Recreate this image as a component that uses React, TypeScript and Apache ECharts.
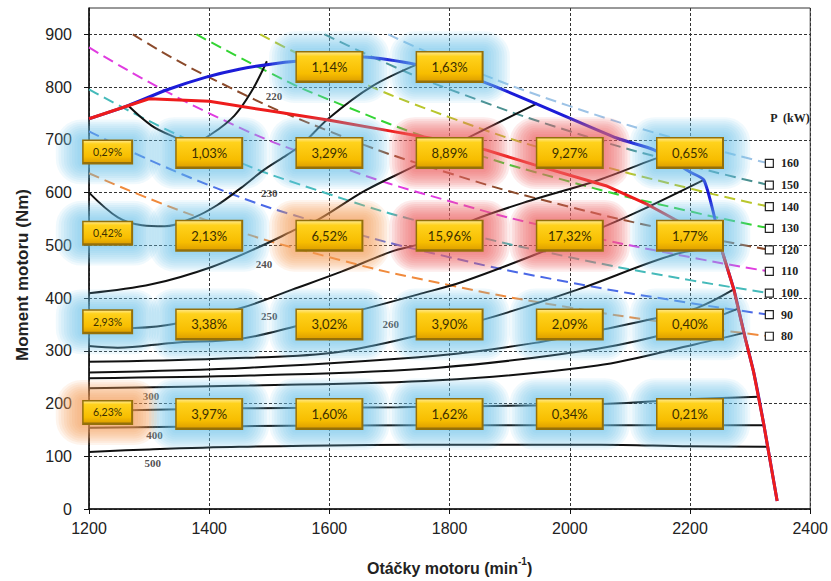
import React, { useEffect, useRef } from 'react';
import * as echarts from 'echarts';

// ---- constant power lines (P in kW) ----
const powerLevels = [160, 150, 140, 130, 120, 110, 100, 90, 80];
const powerColors = ['#9dc3e6', '#4a9090', '#b9c62c', '#33d433', '#8b4a2b', '#e03ce0', '#45baba', '#4a68e6', '#f08a3c'];
const p160 = [[1698, 900], [1800, 848.8], [2000, 763.9], [2200, 694.5], [2332, 655.2]];
const p150 = [[1592, 900], [1700, 842.6], [1800, 795.8], [2000, 716.2], [2200, 651.1], [2332, 614.2]];
const p140 = [[1485, 900], [1600, 835.5], [1800, 742.7], [2000, 668.4], [2200, 607.7], [2332, 573.3]];
const p130 = [[1379, 900], [1500, 827.6], [1600, 775.9], [1800, 689.7], [2000, 620.7], [2200, 564.3], [2332, 532.3]];
const p120 = [[1273, 900], [1400, 818.5], [1600, 716.2], [1800, 636.6], [2000, 572.9], [2200, 520.9], [2332, 491.4]];
const p110 = [[1200, 875.3], [1400, 750.3], [1600, 656.5], [1800, 583.6], [2000, 525.2], [2200, 477.5], [2332, 450.4]];
const p100 = [[1200, 795.8], [1400, 682.1], [1600, 596.8], [1800, 530.5], [2000, 477.5], [2200, 434.0], [2332, 409.5]];
const p90 = [[1200, 716.2], [1400, 613.9], [1600, 537.1], [1800, 477.5], [2000, 429.7], [2200, 390.6], [2332, 368.5]];
const p80 = [[1200, 636.6], [1400, 545.7], [1600, 477.5], [1800, 424.4], [2000, 382.0], [2200, 347.2], [2332, 327.6]];
const powerLines = [p160, p150, p140, p130, p120, p110, p100, p90, p80];

// ---- full-load torque curves ----
const blueCurve = [[1200, 740], [1265, 765], [1330, 795], [1395, 819], [1450, 834], [1505, 844], [1545, 849], [1657, 857], [1740, 844], [1856, 810], [2079, 703], [2140, 681], [2200, 639], [2223, 624], [2240, 557], [2253, 491], [2273, 416], [2291, 328], [2306, 259], [2323, 159], [2345, 15]];
const redCurve = [[1200, 740], [1300, 778], [1400, 773], [1500, 755], [1600, 737], [1700, 717], [1800, 697], [1860, 681], [1940, 653], [2060, 613], [2130, 577], [2175, 549], [2220, 522], [2253, 491], [2273, 416], [2291, 328], [2306, 259], [2323, 159], [2345, 15]];

// ---- specific fuel consumption contours ----
const c220 = [[1265, 765], [1304, 727], [1339, 707], [1372, 694], [1405, 712], [1442, 746], [1470, 791], [1496, 849]];
const c230 = [[1200, 600], [1248, 553], [1288, 538], [1326, 536], [1375, 553], [1413, 576], [1453, 609], [1491, 643], [1529, 671], [1553, 690], [1599, 741], [1670, 801], [1748, 844]];
const c240 = [[1200, 409], [1304, 426], [1404, 459], [1491, 501], [1546, 531], [1582, 549], [1660, 604], [1743, 651], [1836, 707], [1946, 769]];
const c250 = [[1200, 341], [1276, 343], [1341, 351], [1453, 381], [1538, 416], [1620, 450], [1703, 488], [1760, 506], [1842, 549], [1935, 585], [2046, 623], [2137, 662], [2160, 671]];
const c260 = [[1200, 309], [1248, 306], [1339, 315], [1453, 323], [1546, 347], [1657, 379], [1748, 407], [1822, 431], [1946, 484], [2054, 534], [2129, 572], [2223, 624]];
const c270 = [[1200, 279], [1414, 285], [1602, 296], [1745, 328], [1859, 360], [2013, 416], [2178, 484], [2250, 494]];
const c280 = [[1200, 259], [1467, 268], [1781, 291], [1942, 315], [2057, 341], [2145, 362], [2211, 381], [2272, 416]];
const c285 = [[1200, 248], [1467, 253], [1781, 268], [2046, 304], [2178, 338], [2280, 380]];
const c290 = [[1200, 229], [1467, 234], [1781, 244], [2046, 272], [2211, 313], [2290, 334]];
const c300 = [[1200, 186], [1450, 191], [1715, 193], [2046, 199], [2195, 208], [2314, 213]];
const c400 = [[1200, 154], [1450, 157], [1748, 159], [2046, 159], [2322, 159]];
const c500 = [[1200, 108], [1300, 113], [1450, 118], [1750, 122], [2050, 122], [2200, 119], [2329, 118]];
const contours = [c220, c230, c240, c250, c260, c270, c280, c285, c290, c300, c400, c500];

const contourLabelText = ['220', '230', '240', '250', '260', '300', '400', '500'];
const contourLabelN = [1508, 1500, 1491, 1500, 1702, 1303, 1309, 1306];
const contourLabelT = [784, 600, 465, 366, 351, 214, 141, 88];

// ---- time-share boxes ----
const boxLabels = ['1,14%', '1,63%',
  '0,29%', '1,03%', '3,29%', '8,89%', '9,27%', '0,65%',
  '0,42%', '2,13%', '6,52%', '15,96%', '17,32%', '1,77%',
  '2,93%', '3,38%', '3,02%', '3,90%', '2,09%', '0,40%',
  '6,23%', '3,97%', '1,60%', '1,62%', '0,34%', '0,21%'];
const boxN = [1600, 1800,
  1231, 1400, 1600, 1800, 2000, 2200,
  1231, 1400, 1600, 1800, 2000, 2200,
  1231, 1400, 1600, 1800, 2000, 2200,
  1231, 1400, 1600, 1800, 2000, 2200];
const boxT = [838, 838,
  677, 675, 675, 675, 675, 675,
  523, 518, 518, 518, 518, 518,
  355, 350, 350, 350, 350, 350,
  183, 180, 180, 180, 180, 180];
const boxGlow = ['b', 'b',
  'b', 'b', 'b', 'r', 'r', 'b',
  'b', 'b', 'o', 'r', 'r', 'b',
  'b', 'b', 'b', 'b', 'b', 'b',
  'o', 'b', 'b', 'b', 'b', 'b'];
const boxSmall = [false, false,
  true, false, false, false, false, false,
  true, false, false, false, false, false,
  true, false, false, false, false, false,
  true, false, false, false, false, false];

const xTicks = { min: 1200, max: 2400, interval: 200 };
const yTicks = [0, 100, 200, 300, 400, 500, 600, 700, 800, 900];

const glowRgb: Record<string, string> = {
  b: '105,198,240',
  r: '236,100,100',
  o: '242,155,85',
};
const glowAlpha: Record<string, number> = { b: 0.1, r: 0.125, o: 0.115 };

export default function App() {
  const ref = useRef<HTMLDivElement>(null);
  useEffect(() => {
    document.body.style.margin = '0';
    const chart = echarts.init(ref.current!, null, { renderer: 'svg' });
    const boxData = boxN.map((n, i) => [n, boxT[i]]);

    const series: any[] = [];
    powerLines.forEach((arr, k) => {
      series.push({
        type: 'line',
        z: 2,
        silent: true,
        smooth: true,
        symbol: 'rect',
        symbolSize: 8,
        showSymbol: true,
        lineStyle: { color: powerColors[k], width: 2, type: [11, 6] },
        data: arr.map((p, j) =>
          j === arr.length - 1
            ? {
                value: p,
                symbol: 'rect',
                symbolSize: 8,
                itemStyle: { color: '#ffffff', borderColor: '#222', borderWidth: 1.2 },
                label: {
                  show: true,
                  position: 'right',
                  distance: 7,
                  formatter: String(powerLevels[k]),
                  fontFamily: 'Liberation Serif',
                  fontWeight: 'bold',
                  fontSize: 12,
                  color: '#222',
                },
              }
            : { value: p, symbol: 'none' }
        ),
      });
    });
    contours.forEach((arr) => {
      series.push({
        type: 'line',
        z: 3,
        silent: true,
        smooth: 0.35,
        symbol: 'none',
        lineStyle: { color: '#111', width: 2 },
        data: arr,
      });
    });
    series.push({
      type: 'line', z: 4, silent: true, symbol: 'none', smooth: 0.2,
      lineStyle: { color: '#1c1cd8', width: 3 }, data: blueCurve,
    });
    series.push({
      type: 'line', z: 5, silent: true, symbol: 'none',
      lineStyle: { color: '#ee1c1c', width: 3 }, data: redCurve,
    });
    series.push({
      type: 'scatter', z: 6, silent: true, symbolSize: 1,
      itemStyle: { color: 'rgba(0,0,0,0)' },
      label: {
        show: true, position: 'inside',
        formatter: (p: any) => contourLabelText[p.dataIndex],
        fontFamily: 'Liberation Serif', fontWeight: 'bold', fontSize: 11, color: '#222',
      },
      data: contourLabelN.map((n, i) => [n, contourLabelT[i]]),
    });
    // soft glow: stacked translucent rounded rects
    series.push({
      type: 'custom', z: 7, silent: true,
      renderItem: (params: any, api: any) => {
        const i = params.dataIndex;
        const c = api.coord([api.value(0), api.value(1)]);
        const w = boxSmall[i] ? 51 : 68;
        const h = boxSmall[i] ? 25 : 32;
        const rgb = glowRgb[boxGlow[i]];
        const a = glowAlpha[boxGlow[i]];
        const children: any[] = [];
        const layers = 10;
        for (let k = layers - 1; k >= 0; k--) {
          const mx = 2 + k * 2.7;
          const my = 1 + k * 2.1;
          children.push({
            type: 'rect',
            shape: { x: c[0] - w / 2 - mx, y: c[1] - h / 2 - my, width: w + 2 * mx, height: h + 2 * my, r: 3 + k * 2.5 },
            style: { fill: `rgba(${rgb},${a})` },
          });
        }
        return { type: 'group', children };
      },
      data: boxData,
    });
    series.push({
      type: 'custom', z: 8, silent: true,
      renderItem: (params: any, api: any) => {
        const i = params.dataIndex;
        const c = api.coord([api.value(0), api.value(1)]);
        const small = boxSmall[i];
        const w = small ? 51 : 68;
        const h = small ? 25 : 32;
        const x0 = c[0] - w / 2;
        const y0 = c[1] - h / 2;
        return {
          type: 'group',
          children: [
            { type: 'rect', shape: { x: x0, y: y0, width: w, height: h }, style: { fill: '#94700a' } },
            {
              type: 'rect',
              shape: { x: x0 + 1.5, y: y0 + 1.5, width: w - 3.5, height: h - 4 },
              style: {
                fill: new echarts.graphic.LinearGradient(0, 0, 0, 1, [
                  { offset: 0, color: '#ffe680' },
                  { offset: 0.14, color: '#ffd21c' },
                  { offset: 0.75, color: '#f7bd00' },
                  { offset: 1, color: '#e0a200' },
                ]),
              },
            },
            {
              type: 'text',
              x: c[0],
              y: c[1],
              style: {
                text: boxLabels[i],
                align: 'center',
                verticalAlign: 'middle',
                fill: '#3b2f00',
                font: (small ? '10.5px' : '13px') + ' Lato, "Liberation Sans", sans-serif',
              },
            },
          ],
        };
      },
      data: boxData,
    });

    chart.setOption({
      animation: false,
      backgroundColor: '#ffffff',
      grid: { left: 89, right: 17, top: 8, bottom: 66, show: true, borderColor: '#333', borderWidth: 1 },
      xAxis: {
        type: 'value',
        min: xTicks.min,
        max: xTicks.max,
        interval: xTicks.interval,
        axisLine: { show: true, lineStyle: { color: '#111', width: 1.5 } },
        axisTick: { show: true, length: 5, lineStyle: { color: '#111' } },
        axisLabel: {
          fontFamily: 'Liberation Sans', fontSize: 16, color: '#222', margin: 11,
          formatter: (v: number) => String(v),
        },
        splitLine: { show: true, lineStyle: { color: '#333', width: 1, type: [3, 2] } },
        name: '{a|Otáčky motoru (min}{b|-1}{a|)}',
        nameLocation: 'middle',
        nameGap: 47,
        nameTextStyle: {
          rich: {
            a: { fontFamily: 'Liberation Sans', fontWeight: 'bold', fontSize: 16, color: '#222', lineHeight: 20, verticalAlign: 'bottom' },
            b: { fontFamily: 'Liberation Sans', fontWeight: 'bold', fontSize: 10, color: '#222', lineHeight: 20, verticalAlign: 'top' },
          },
        },
      },
      yAxis: {
        type: 'value',
        min: 0,
        max: 950,
        interval: 100,
        axisLine: { show: true, lineStyle: { color: '#111', width: 1.5 } },
        axisTick: { show: true, length: 5, lineStyle: { color: '#111' }, customValues: yTicks },
        axisLabel: {
          fontFamily: 'Liberation Sans', fontSize: 16, color: '#222', margin: 17,
          customValues: yTicks,
          formatter: (v: number) => (v > 900 ? '' : String(v)),
        },
        splitLine: { show: true, lineStyle: { color: '#333', width: 1, type: [3, 2] } },
      },
      graphic: [
        {
          type: 'text',
          x: 22,
          y: 275,
          rotation: Math.PI / 2,
          style: {
            text: 'Moment motoru (Nm)',
            align: 'center',
            verticalAlign: 'middle',
            font: 'bold 17px "Liberation Sans", Arial, sans-serif',
            fill: '#222',
          },
        },
        {
          type: 'text',
          x: 790,
          y: 118,
          style: {
            text: 'P  (kW)',
            align: 'center',
            verticalAlign: 'middle',
            font: 'bold 12px "Liberation Serif", serif',
            fill: '#222',
          },
        },
      ],
      series,
    });
    return () => chart.dispose();
  }, []);
  return <div ref={ref} style={{ width: 831, height: 581 }} />;
}
